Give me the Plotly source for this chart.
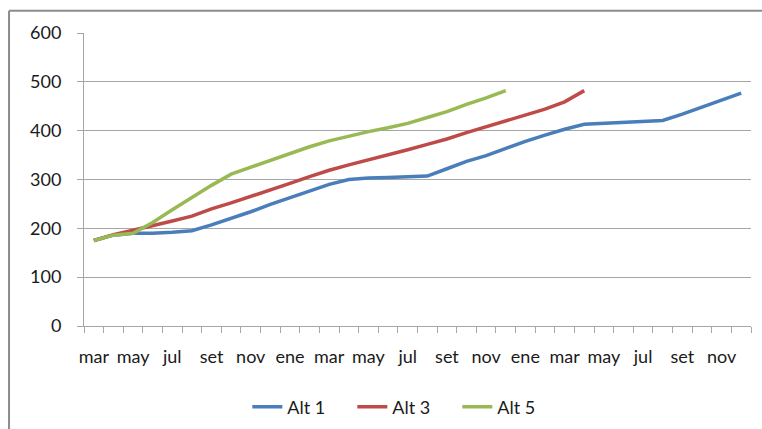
import plotly.graph_objects as go

months = ["mar", "abr", "may", "jun", "jul", "ago", "set", "oct", "nov", "dic",
          "ene", "feb", "mar", "abr", "may", "jun", "jul", "ago", "set", "oct", "nov", "dic",
          "ene", "feb", "mar", "abr", "may", "jun", "jul", "ago", "set", "oct", "nov", "dic"]

alt1 = [175, 186, 190, 190, 192, 195, 207, 220, 234, 249, 263, 277, 290, 300, 303, 304, 305,
        307, 322, 337, 349, 364, 378, 391, 403, 413, 415, 417, 419, 421, 434, 448, 462, 477]
alt3 = [175, 187, 196, 205, 215, 225, 240, 252, 265, 279, 292, 306, 319, 330, 340, 350, 361,
        372, 383, 396, 408, 421, 432, 444, 459, 482]
alt5 = [175, 186, 190, 212, 238, 264, 288, 311, 325, 340, 353, 367, 379, 389, 398, 406, 415,
        427, 439, 454, 467, 482]

series = [("Alt 1", alt1, "#4A7EBB"), ("Alt 3", alt3, "#BE4B48"), ("Alt 5", alt5, "#98B954")]

x_idx = list(range(len(months)))

fig = go.Figure()
for name, vals, color in series:
    fig.add_trace(go.Scatter(
        x=x_idx[:len(vals)], y=vals, name=name, mode="lines",
        line=dict(color=color, width=3.5),
    ))

FONT = "Lato, Liberation Sans, sans-serif"
GRID = "#a6a6a6"

fig.update_layout(
    width=762, height=429,
    margin=dict(l=83.5, r=11, t=33, b=103, autoexpand=False),
    paper_bgcolor="white", plot_bgcolor="white",
    font=dict(family=FONT, size=18, color="#1a1a1a"),
    showlegend=True,
    legend=dict(orientation="h", x=0.481, xanchor="center",
                yref="container", y=0.051, yanchor="middle",
                font=dict(size=18), entrywidth=60),
    xaxis=dict(
        range=[-0.5, len(months) - 0.5], automargin=False,
        tickmode="array", tickvals=x_idx[::2], ticktext=months[::2],
        ticks="", showgrid=False, showline=True, linecolor=GRID, linewidth=1,
        ticklabelstandoff=14,
        minor=dict(tickmode="linear", tick0=-0.5, dtick=1, ticks="outside",
                   ticklen=6, tickcolor=GRID, showgrid=False),
        zeroline=False,
    ),
    yaxis=dict(
        range=[0, 600], dtick=100, showgrid=True, gridcolor=GRID, gridwidth=1,
        automargin=False,
        ticks="outside", ticklen=6, tickcolor=GRID, showline=True, linecolor=GRID,
        ticklabelstandoff=12, zeroline=False,
    ),
    shapes=[
        dict(type="line", xref="paper", yref="paper", x0=-0.1124, x1=-0.1124, y0=1.076, y1=-0.5,
             line=dict(color="#8c8c8c", width=2)),
        dict(type="line", xref="paper", yref="paper", x0=-0.1124, x1=1.2, y0=1.076, y1=1.076,
             line=dict(color="#8c8c8c", width=2)),
    ],
)

fig.write_html("out.html", config={"displayModeBar": False},
               post_script="document.body.style.margin='0';document.body.style.overflow='hidden';")
